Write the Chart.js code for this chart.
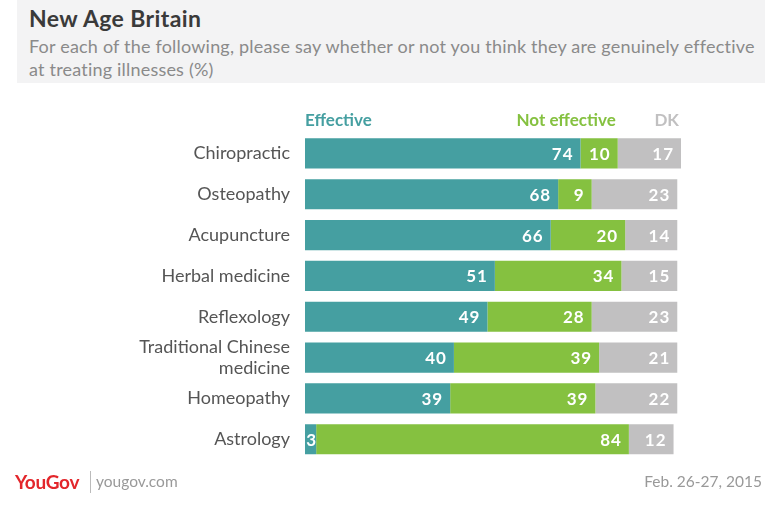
<!DOCTYPE html>
<html>
<head>
<meta charset="utf-8">
<script src="https://cdn.jsdelivr.net/npm/chart.js@4"></script>
<style>
  body { margin:0; width:777px; height:508px; background:#fff; font-family:Lato, "Open Sans", sans-serif; position:relative; overflow:hidden; }
  #head { position:absolute; left:17px; top:0; width:748px; height:83px; background:#f3f3f4; }
  #title { position:absolute; left:12px; top:4px; font-size:23px; font-weight:bold; color:#3a3a3a; letter-spacing:0.4px; }
  #sub { position:absolute; left:12px; top:35px; font-size:18px; letter-spacing:0.2px; color:#8a8a8a; line-height:23px; width:735px; }
  #c { position:absolute; left:0; top:100px; }
  #logo { position:absolute; left:15px; top:470px; font-size:19px; font-weight:bold; color:#e3262b; letter-spacing:-0.3px; }
  #sep { position:absolute; left:90px; top:471px; width:1px; height:22px; background:#bbb; }
  #site { position:absolute; left:96px; top:472px; font-size:15.5px; color:#999; }
  #date { position:absolute; right:15px; top:472px; font-size:15.5px; color:#999; }
</style>
</head>
<body>
<div id="head">
  <div id="title">New Age Britain</div>
  <div id="sub">For each of the following, please say whether or not you think they are genuinely effective at treating illnesses (%)</div>
</div>
<canvas id="c" width="777" height="385"></canvas>
<div id="logo">YouGov</div>
<div id="sep"></div>
<div id="site">yougov.com</div>
<div id="date">Feb. 26-27, 2015</div>
<script>
'use strict';

var categories = ["Chiropractic", "Osteopathy", "Acupuncture", "Herbal medicine", "Reflexology", ["Traditional Chinese", "medicine"], "Homeopathy", "Astrology"];
var effective    = [74, 68, 66, 51, 49, 40, 39, 3];
var notEffective = [10,  9, 20, 34, 28, 39, 39, 84];
var dontKnow     = [17, 23, 14, 15, 23, 21, 22, 12];
var seriesNames  = ["Effective", "Not effective", "DK"];
var colors = ['#459fa1', '#85c140', '#c1c0c1'];

// white numbers inside each segment
var barLabels = {
    id: 'barLabels',
    afterDatasetsDraw: function(chart){
        var ctx = chart.ctx;
        ctx.save();
        ctx.font = 'bold 17px Lato, sans-serif';
        ctx.letterSpacing = '1px';
        ctx.fillStyle = '#fff';
        ctx.textBaseline = 'middle';
        chart.data.datasets.forEach(function(ds, i){
            chart.getDatasetMeta(i).data.forEach(function(bar, j){
                var txt = String(ds.data[j]);
                var w = bar.x - bar.base;
                var tw = ctx.measureText(txt).width;
                if (w < tw + 12) {
                    ctx.textAlign = 'center';
                    ctx.fillText(txt, (bar.x + bar.base) / 2 + 1, bar.y + 1);
                } else {
                    ctx.textAlign = 'right';
                    ctx.fillText(txt, bar.x - 7, bar.y + 1);
                }
            });
        });
        ctx.restore();
    }
};

// column headers above the first bar
var headers = {
    id: 'headers',
    afterDraw: function(chart){
        var ctx = chart.ctx;
        var x = chart.scales.x;
        var first = chart.getDatasetMeta(0).data[0];
        var y = first.y - 33;
        ctx.save();
        ctx.font = 'bold 17px Lato, sans-serif';
        ctx.textBaseline = 'middle';
        ctx.textAlign = 'left';
        ctx.fillStyle = colors[0];
        ctx.fillText(seriesNames[0], x.left, y);
        ctx.textAlign = 'right';
        ctx.fillStyle = colors[1];
        ctx.fillText(seriesNames[1], chart.getDatasetMeta(1).data[0].x - 2, y);
        ctx.fillStyle = colors[2];
        ctx.fillText(seriesNames[2], chart.getDatasetMeta(2).data[0].x - 2, y);
        ctx.restore();
    }
};

var datasets = [effective, notEffective, dontKnow].map(function(d, i){
    return {
        label: seriesNames[i],
        data: d,
        backgroundColor: colors[i],
        borderWidth: 0,
        barPercentage: 0.74,
        categoryPercentage: 1.0
    };
});

new Chart(document.getElementById('c'), {
    type: 'bar',
    data: { labels: categories, datasets: datasets },
    options: {
        indexAxis: 'y',
        responsive: false,
        animation: false,
        devicePixelRatio: 1,
        layout: { padding: { top: 33, bottom: 0, right: 96, left: 0 } },
        plugins: { legend: { display: false }, tooltip: { enabled: false } },
        scales: {
            x: { stacked: true, display: false, min: 0, max: 101 },
            y: {
                stacked: true,
                grid: { display: false, drawTicks: false },
                border: { display: false },
                ticks: { autoSkip: false, color: '#555', font: { family: 'Lato, sans-serif', size: 18, lineHeight: 1.15 }, padding: 15 },
                afterFit: function(scale){ scale.width = 305; }
            }
        }
    },
    plugins: [barLabels, headers]
});
</script>
</body>
</html>
